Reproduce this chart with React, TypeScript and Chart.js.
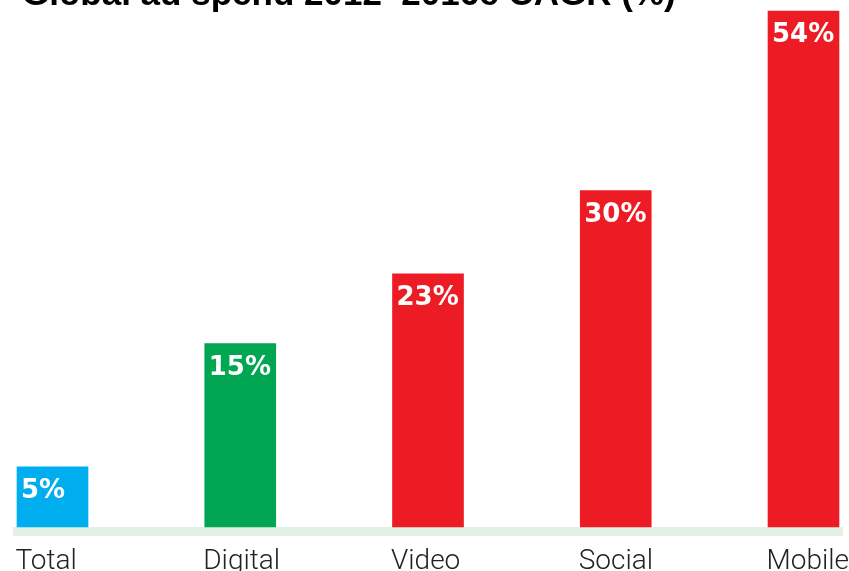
import React, { useEffect, useRef } from "react";
import { Chart, registerables } from "chart.js";

Chart.register(...registerables);

// ---- data ----
const TITLE = "Global ad spend 2012–2016e CAGR (%)";
const categories = ["Total", "Digital", "Video", "Social", "Mobile"];
const cagrLabels = ["5%", "15%", "23%", "30%", "54%"];
// bar lengths as drawn in the graphic (scaled so the Mobile bar = 54)
const barLength = [6.3, 19.2, 26.5, 35.2, 54];
const barColors = ["#00aeef", "#00a651", "#ed1c24", "#ed1c24", "#ed1c24"];

const titlePlugin = {
  id: "topTitle",
  afterDraw(chart: any) {
    const ctx = chart.ctx;
    ctx.save();
    ctx.font = "bold 35px 'Liberation Sans', Arial, sans-serif";
    ctx.fillStyle = "#000000";
    ctx.textAlign = "left";
    ctx.textBaseline = "alphabetic";
    ctx.fillText(TITLE, 22, 5);
    ctx.restore();
  },
};

const bandPlugin = {
  id: "baseBand",
  beforeDatasetsDraw(chart: any) {
    const meta = chart.getDatasetMeta(0);
    const bars = meta.data;
    if (!bars.length) return;
    const first = bars[0];
    const last = bars[bars.length - 1];
    const left = first.x - first.width / 2 - 4;
    const right = last.x + last.width / 2 + 4;
    const top = chart.scales.y.getPixelForValue(0);
    const ctx = chart.ctx;
    ctx.save();
    ctx.fillStyle = "#e2f0e6";
    ctx.fillRect(left, top, right - left, 9);
    ctx.restore();
  },
};

const valueLabelPlugin = {
  id: "valueLabels",
  afterDatasetsDraw(chart: any) {
    const meta = chart.getDatasetMeta(0);
    const ctx = chart.ctx;
    ctx.save();
    ctx.font = "bold 26px 'DejaVu Sans', sans-serif";
    ctx.fillStyle = "#ffffff";
    ctx.textAlign = "left";
    ctx.textBaseline = "alphabetic";
    meta.data.forEach((bar: any, i: number) => {
      ctx.fillText(cagrLabels[i], bar.x - bar.width / 2 + 4, bar.y + 31);
    });
    ctx.restore();
  },
};

export default function App() {
  const ref = useRef<HTMLCanvasElement | null>(null);

  useEffect(() => {
    if (!ref.current) return;
    const chart = new Chart(ref.current, {
      type: "bar",
      data: {
        labels: categories,
        datasets: [
          {
            data: barLength,
            backgroundColor: barColors,
            borderWidth: 0,
            barThickness: 71,
            clip: false,
          } as any,
        ],
      },
      options: {
        animation: false,
        responsive: false,
        devicePixelRatio: 1,
        layout: { padding: { top: 11, left: 52.5, right: 45.5, bottom: 0 } },
        plugins: {
          legend: { display: false },
          title: { display: false },
          tooltip: { enabled: false },
        },
        scales: {
          x: {
            offset: false,
            grid: { display: false, drawTicks: false },
            border: { display: false },
            ticks: {
              autoSkip: false,
              maxRotation: 0,
              minRotation: 0,
              align: "start",
              labelOffset: -37,
              padding: 18,
              color: "#222222",
              font: { family: "Roboto, 'Liberation Sans', sans-serif", size: 28, weight: "300" },
            },
            afterFit: (s: any) => {
              s.paddingLeft = 0;
              s.paddingRight = 0;
              s.height = 44;
            },
          },
          y: {
            display: false,
            min: 0,
            max: 54,
          },
        },
      },
      plugins: [bandPlugin, valueLabelPlugin, titlePlugin],
    });
    return () => chart.destroy();
  }, []);

  return (
    <div style={{ position: "absolute", left: 0, top: 0, width: 849, height: 571, background: "#ffffff" }}>
      <canvas ref={ref} width={849} height={571} style={{ display: "block" }} />
    </div>
  );
}
